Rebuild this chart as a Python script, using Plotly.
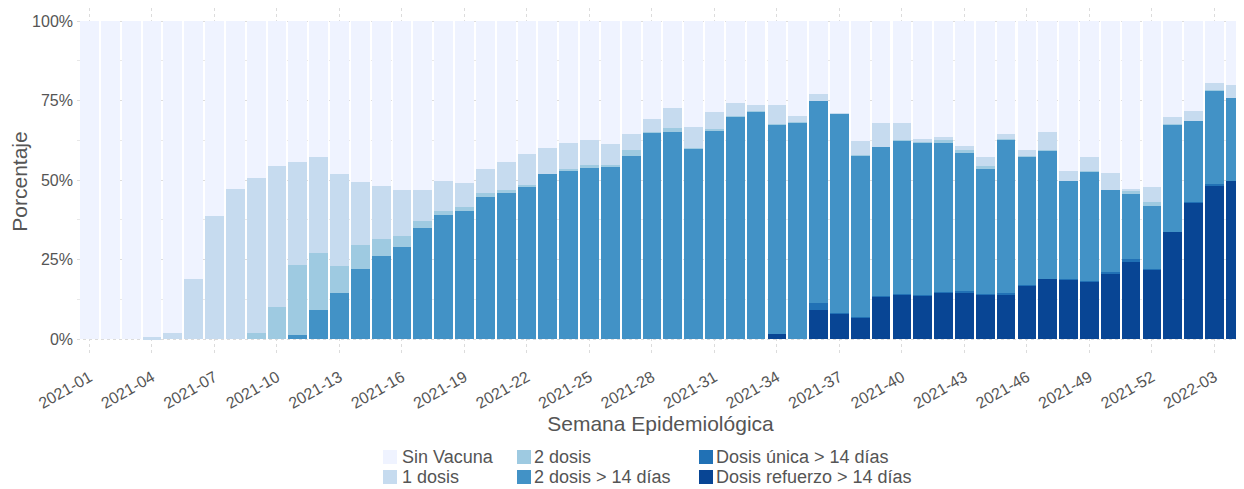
import plotly.graph_objects as go

weeks = [f"2021-{i:02d}" for i in range(1, 53)] + [f"2022-{i:02d}" for i in range(1, 5)]
tick_weeks = weeks[::3]
y_ticks = [0, 25, 50, 75, 100]
y_tick_text = ["0%", "25%", "50%", "75%", "100%"]

refuerzo = [0]*33 + [1.6, 0, 9.1, 8.0, 6.7, 13.3, 13.9, 13.6, 14.6, 14.6, 14.0, 13.9, 16.8, 18.9,
                     18.7, 18.1, 20.4, 24.1, 22.0, 33.7, 42.8, 48.4, 49.7]
unica = [0]*35 + [2.3, 0.1, 0.2, 0.1, 0.1, 0.1, 0.2, 0.6, 0.1, 0.6, 0.1, 0.1, 0.1, 0.2, 0.8, 1.2,
                  0.1, 0.1, 0.2, 0.2, 0.1]
dos14 = [0]*10 + [1.3, 9.2, 14.5, 21.9, 26.1, 28.8, 34.8, 39.0, 40.3, 44.7, 46.0, 48.1, 51.9, 52.7,
                  53.9, 54.4, 57.7, 64.9, 65.2, 60.0, 65.5, 69.9, 71.5, 66.0, 68.0, 63.5, 62.7, 50.8,
                  46.9, 48.4, 48.0, 46.9, 43.4, 39.5, 48.2, 40.4, 40.3, 30.9, 34.5, 25.7, 20.6, 19.8,
                  33.6, 25.6, 29.7, 26.0]
dos = [0]*8 + [1.9, 10.1, 22.1, 17.8, 8.6, 7.7, 5.3, 3.6, 2.3, 1.3, 1.2, 1.3, 0.9, 0.2, 0.1, 0.9,
               0.8, 0.2, 1.7, 0.2, 1.2, 0.1, 0.5, 0.1, 0.1, 0.1, 0.1, 0.1, 0.0, 0.1, 0.0, 0.1, 0.2,
               0.9, 0.8, 0.8, 0.2, 0.1, 0.1, 0.1, 0.1, 0.1, 0.5, 1.2, 0.1, 0.1, 0.1, 0.1]
una = [0, 0, 0, 0.6, 1.9, 18.9, 38.7, 47.1, 48.7, 44.3, 32.3, 30.1, 28.8, 19.7, 16.6, 14.5, 9.7, 9.5,
       7.6, 7.6, 8.7, 10.0, 8.1, 8.1, 7.9, 6.6, 5.0, 4.1, 6.3, 6.7, 5.3, 4.3, 2.1, 6.0, 2.0, 2.1, 0.3,
       4.5, 7.6, 5.4, 1.0, 1.0, 1.4, 2.9, 1.6, 2.0, 5.8, 2.9, 4.3, 5.1, 0.7, 4.6, 2.2, 3.0, 2.1, 3.9]
sin = [100, 100, 100, 99.4, 98.1, 81.1, 61.3, 52.9, 49.4, 45.6, 44.3, 42.9, 48.1, 50.7, 52.0, 53.1,
       53.2, 50.2, 50.9, 46.4, 44.4, 41.7, 39.9, 38.3, 37.4, 38.8, 35.6, 30.8, 27.3, 33.2, 28.7, 25.7,
       26.3, 26.3, 29.9, 22.9, 28.9, 37.7, 32.1, 32.1, 37.1, 36.4, 39.2, 42.7, 35.5, 40.6, 34.8, 47.3,
       42.8, 47.9, 52.9, 52.3, 30.3, 28.3, 19.5, 20.2]

# bottom-to-top stacking order
series = [
    ("Dosis refuerzo > 14 días", refuerzo, "#084594"),
    ("Dosis única > 14 días", unica, "#2171B5"),
    ("2 dosis > 14 días", dos14, "#4292C6"),
    ("2 dosis", dos, "#9ECAE1"),
    ("1 dosis", una, "#C6DBEF"),
    ("Sin Vacuna", sin, "#EFF3FF"),
]
# legend layout: (name, column, row)
legend_layout = [
    ("Sin Vacuna", 0, 0), ("1 dosis", 0, 1),
    ("2 dosis", 1, 0), ("2 dosis > 14 días", 1, 1),
    ("Dosis única > 14 días", 2, 0), ("Dosis refuerzo > 14 días", 2, 1),
]

FONT = "Liberation Sans, Arial, sans-serif"
GREY = "#555555"

fig = go.Figure()
for name, vals, col in series:
    fig.add_trace(go.Bar(x=weeks, y=vals, name=name, marker_color=col,
                         marker_line_width=0, showlegend=False))

# the page body adds an 8px offset; the figure is sized so it ends at the window edge
OFF = 8
W, H = 1244 - OFF, 489 - OFF
L, R, T, B = 77 - OFF, 0, 0, 134
pw = W - L - R
ph = H - T - B


def px_x(p):
    return (p - OFF - L) / pw


def px_y(p):
    return (H - B - (p - OFF)) / ph


# legend (drawn as swatches + text, arranged in 3 columns of 2 rows)
col_swatch_x = [383, 517, 699]
col_text_x = [400, 532, 714]
row_mid = [457, 477]
colors = {name: col for name, _, col in series}
for name, c, r in legend_layout:
    fig.add_shape(type="rect", xref="paper", yref="paper",
                  x0=px_x(col_swatch_x[c]), x1=px_x(col_swatch_x[c] + 14),
                  y0=px_y(row_mid[r] + 7), y1=px_y(row_mid[r] - 7),
                  fillcolor=colors[name], line_width=0, layer="above")
    fig.add_annotation(xref="paper", yref="paper", x=px_x(col_text_x[c]), y=px_y(row_mid[r]),
                       text=name, showarrow=False, xanchor="left", yanchor="middle",
                       font=dict(family=FONT, size=18, color=GREY))

fig.update_layout(
    width=W, height=H,
    margin=dict(l=L, r=R, t=T, b=B, autoexpand=False),
    barmode="stack", bargap=0.1,
    plot_bgcolor="white", paper_bgcolor="white",
    font=dict(family=FONT, color=GREY),
    showlegend=False,
    xaxis=dict(
        type="category", categoryorder="array", categoryarray=weeks,
        range=[-0.6, 55.42], automargin=False,
        tickmode="array", tickvals=tick_weeks, ticktext=tick_weeks,
        tickangle=-30, tickfont=dict(family=FONT, size=16, color=GREY),
        ticklabelstandoff=9,
        showgrid=True, gridcolor="#dcdcdc", griddash="dot", gridwidth=1,
        zeroline=False, showline=False, ticks="",
        title=dict(text="Semana Epidemiológica", font=dict(family=FONT, size=21, color=GREY), standoff=4),
    ),
    yaxis=dict(
        range=[-5.03, 104.1], automargin=False,
        tickmode="array", tickvals=y_ticks, ticktext=y_tick_text,
        tickfont=dict(family=FONT, size=16, color=GREY),
        ticklabelstandoff=3,
        showgrid=True, gridcolor="#dcdcdc", griddash="dot", gridwidth=1,
        minor=dict(tickvals=[12.5, 37.5, 62.5, 87.5], showgrid=True, gridcolor="#e8e8e8",
                   griddash="dot", gridwidth=1),
        zeroline=False, showline=False, ticks="",
        title=dict(text="Porcentaje", font=dict(family=FONT, size=21, color=GREY), standoff=4),
    ),
)

fig.write_html("out.html")
